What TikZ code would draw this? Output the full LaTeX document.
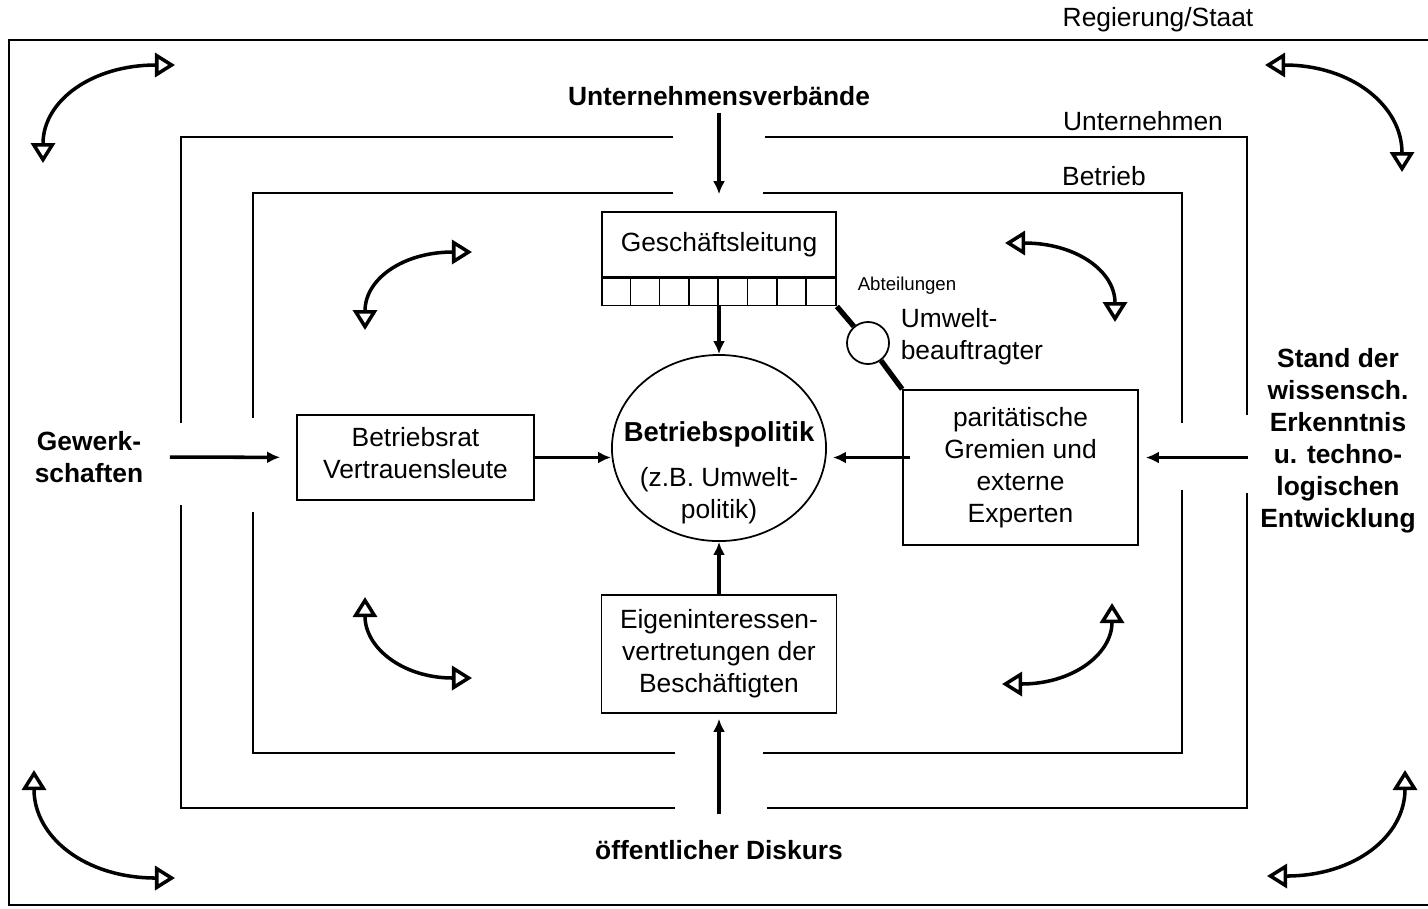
\documentclass[tikz,border=0pt]{standalone}
\usepackage{fontspec}
\setmainfont{Liberation Sans}
\usetikzlibrary{arrows.meta,shapes.geometric,positioning}

\tikzset{
  every node/.style={font=\fontsize{7.5}{9.1}\selectfont, inner sep=2pt},
  rahmen/.style={line width=0.6pt},
  kasten/.style={draw, rectangle, line width=0.45pt, align=center, inner sep=0pt},
  pfeil/.style={-{Latex[length=1.3mm,width=1.2mm]}, line width=1pt},
  wechsel/.style={{Triangle[open,length=2mm,width=2.4mm]}-{Triangle[open,length=2mm,width=2.4mm]}, line width=1pt},
  fett/.style={font=\fontsize{7.5}{9.1}\selectfont\bfseries, align=center},
  linie/.style={line width=1.5pt}
}

\begin{document}
\begin{tikzpicture}[x=0.01cm,y=-0.01cm]
\useasboundingbox (0,0) rectangle (1428,908);

% Rahmen: Regierung/Staat, Unternehmen, Betrieb
\draw[rahmen] (1428,40) -- (9,40) -- (9,905) -- (1428,905);
\draw[rahmen] (673,137) -- (181,137) -- (181,423);
\draw[rahmen] (181,505) -- (181,808) -- (675,808);
\draw[rahmen] (767,808) -- (1247,808) -- (1247,493);
\draw[rahmen] (1247,415) -- (1247,137) -- (765,137);
\draw[rahmen] (673,193) -- (253,193) -- (253,418);
\draw[rahmen] (253,512) -- (253,753) -- (675,753);
\draw[rahmen] (763,753) -- (1182,753) -- (1182,490);
\draw[rahmen] (1182,423) -- (1182,193) -- (763,193);

\node (staat)   at (1158,20)  {Regierung/Staat};
\node (untern)  at (1143,121) {Unternehmen};
\node (betrieb) at (1104,176) {Betrieb};

% aeussere Einfluesse
\node[fett] (verband) at (719,96)  {Unternehmensverbände};
\node[fett] (diskurs) at (719,850) {öffentlicher Diskurs};
\node[fett] (gewerk)  at (89,457)  {Gewerk-\\schaften};
\node[fett] (stand)   at (1338,441) {Stand der\\wissensch.\\Erkenntnis\\u. techno-\\logischen\\Entwicklung};

% Betrieb innen
\node[kasten, minimum width=2.34cm, minimum height=0.65cm] (geschaeft) at (719,244.5) {Geschäftsleitung};
\node[kasten, minimum width=2.34cm, minimum height=0.27cm, below=0pt of geschaeft] (abt) {};
\foreach \i in {1,...,7}
  \draw[line width=0.45pt] ([xshift=\i*2.925mm]abt.north west) -- ([xshift=\i*2.925mm]abt.south west);
\node[font=\fontsize{5.3}{6}\selectfont] (abtlabel) at (907,286) {Abteilungen};

\node[ellipse, draw, line width=0.5pt, minimum width=2.14cm, minimum height=1.86cm, inner sep=0pt] (politik) at (719,448) {};
\node[align=center] (politiktext) at (719,473) {{\fontsize{7.8}{9.1}\selectfont\bfseries Betriebspolitik}\\[3.7pt](z.B. Umwelt-\\politik)};

\node[circle, draw, line width=0.5pt, minimum size=0.42cm, inner sep=0pt] (beauftr) at (868,343) {};
\node[anchor=west, align=left] (umwelt) at (893,337) {Umwelt-\\beauftragter};

\node[kasten, minimum width=2.35cm, minimum height=1.55cm] (parit) at (1020.5,467.5) {paritätische\\Gremien und\\externe\\Experten};
\node[kasten, minimum width=2.37cm, minimum height=0.85cm, text depth=0.1cm] (rat) at (415.5,457.5) {Betriebsrat\\Vertrauensleute};
\node[kasten, minimum width=2.35cm, minimum height=1.18cm] (eigen) at (719,654) {Eigeninteressen-\\vertretungen der\\Beschäftigten};

\coordinate (dfuss) at (719,814);

% Pfeile
\draw[pfeil, shorten >=0.17cm] (verband) -- (geschaeft);
\draw[pfeil] (abt) -- (politik);
\draw[pfeil] (eigen) -- (politik);
\draw[pfeil, shorten >=0.05cm] (dfuss) -- (eigen);
\draw[pfeil, shorten <=0.19cm, shorten >=0.16cm] (gewerk) -- (rat);
\draw[pfeil] (rat.east) -- (rat.east -| politik.west);
\draw[pfeil, shorten <=-0.08cm, shorten >=0.06cm] (parit.west |- rat.east) -- (politik.east |- rat.east);
\draw[pfeil, shorten <=0.05cm, shorten >=0.07cm] (stand.west |- rat.east) -- (parit.east |- rat.east);

\draw[linie] (abt.south east) -- (beauftr);
\draw[linie] (beauftr) -- (parit.north west);

% Wechselwirkungen aussen
\draw[wechsel] (43,163) .. controls (43,100) and (93,65) .. (175,65);
\draw[wechsel] (1265,65) .. controls (1352,65) and (1402,106) .. (1402,172);
\draw[wechsel] (34,770) .. controls (34,837) and (85,878) .. (175,878);
\draw[wechsel] (1267,876) .. controls (1355,876) and (1405,836) .. (1405,770);
% Wechselwirkungen innen
\draw[wechsel] (365,330) .. controls (365,279) and (403,252) .. (472,252);
\draw[wechsel] (1005,243) .. controls (1076,243) and (1115,271) .. (1115,322);
\draw[wechsel] (365,597) .. controls (365,648) and (403,678) .. (472,678);
\draw[wechsel] (1002,684) .. controls (1073,684) and (1112,654) .. (1112,603);
\end{tikzpicture}
\end{document}
